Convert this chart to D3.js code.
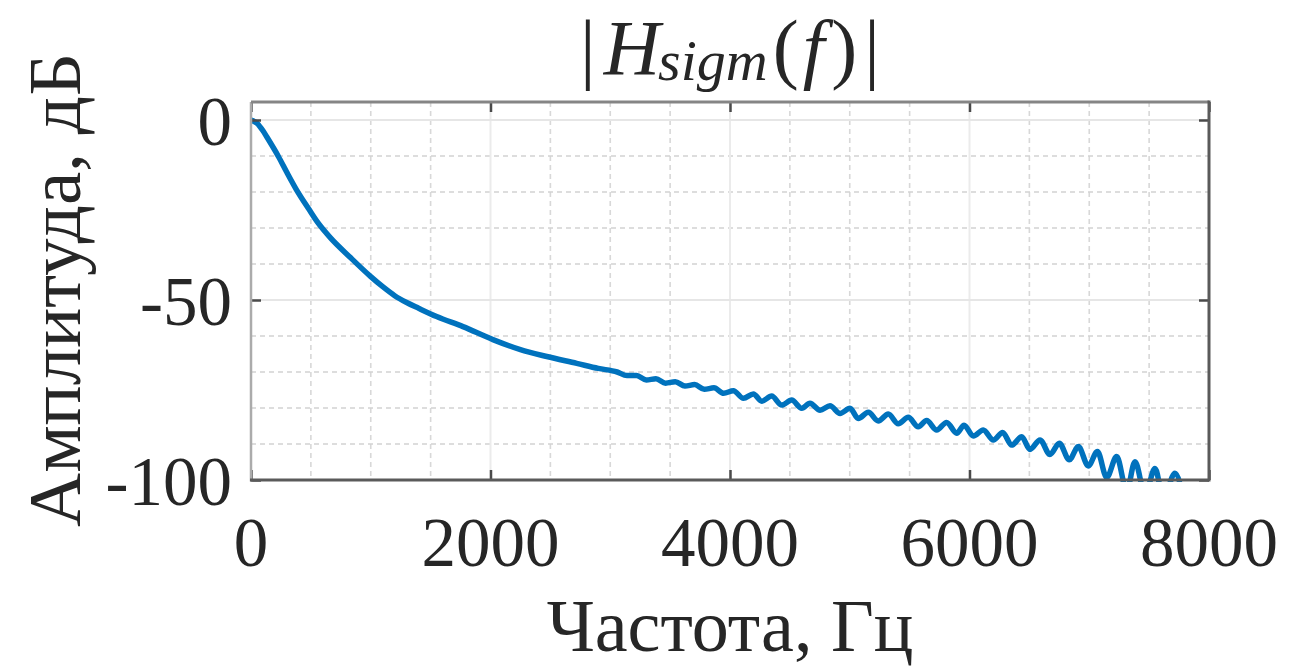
<!DOCTYPE html>
<html>
<head>
<meta charset="utf-8">
<script src="https://cdn.jsdelivr.net/npm/d3@7"></script>
<style>
html,body{margin:0;padding:0;background:#fff;}
svg{display:block;}
text{font-family:"Liberation Serif","DejaVu Serif",serif;fill:#262626;}
</style>
</head>
<body>
<svg id="chart" width="1294" height="666"></svg>
<script>
// ---- data ----
const freqHz = [0, 50, 100, 130, 230, 300, 380, 480, 560, 660, 830, 1000, 1100, 1200, 1300, 1400, 1550, 1770, 2020, 2250, 2470, 2720, 2900,
  3058, 3139, 3220, 3301, 3382, 3462, 3543, 3624, 3705, 3785, 3866, 3947,
  4028, 4112, 4195, 4265, 4348, 4432, 4515, 4599, 4668, 4752, 4835, 4919,
  5002, 5071, 5155, 5238, 5322, 5405, 5489, 5572, 5642, 5726, 5809, 5893,
  5955, 6032, 6115, 6199, 6277, 6352, 6436, 6505, 6589, 6672, 6750, 6833,
  6909, 6992, 7068, 7146, 7229, 7313, 7382, 7466, 7549, 7619, 7716, 7790];
const magDb = [0, -0.9, -3.0, -4.6, -10.2, -14.6, -19.4, -24.6, -28.6, -32.6, -38.2, -43.5, -46.3, -48.8, -50.7, -52.3, -54.6, -57.4, -61.0, -63.8, -65.7, -67.6, -69.0,
  -70.0, -71.0, -71.0, -72.2, -71.9, -73.1, -72.7, -73.9, -73.5, -74.8, -74.4, -75.9,
  -75.2, -77.3, -76.1, -78.1, -76.7, -79.2, -77.8, -80.1, -78.7, -80.6, -79.4, -81.5,
  -80.1, -82.9, -81.2, -83.6, -81.7, -84.4, -82.6, -85.2, -83.5, -86.1, -84.0, -87.0,
  -84.8, -87.8, -86.1, -88.9, -86.8, -90.3, -88.0, -91.5, -88.9, -92.9, -89.8, -94.4,
  -90.7, -96.1, -92.1, -99.3, -93.5, -103.0, -94.9, -104.0, -96.8, -105.0, -98.1, -106.0];
const xTicks = [0, 2000, 4000, 6000, 8000];
const xTickLabels = ["0", "2000", "4000", "6000", "8000"];
const yTicks = [0, -50, -100];
const yTickLabels = ["0", "-50", "-100"];
const xMinor = [500, 1000, 1500, 2500, 3000, 3500, 4500, 5000, 5500, 6500, 7000, 7500];
const yMinor = [-10, -20, -30, -40, -60, -70, -80, -90];
const xLabel = "Частота, Гц";
const yLabel = "Амплитуда, дБ";

// ---- layout ----
const L = 251, R = 1209, T = 102, B = 480;
const x = d3.scaleLinear().domain([0, 8000]).range([L, R]);
const y = d3.scaleLinear().domain([-100, 5]).range([B, T]);
const svg = d3.select("#chart");

// minor grid (dashed)
const g = svg.append("g");
g.selectAll(".vmin").data(xMinor).enter().append("line")
  .attr("x1", d => x(d)).attr("x2", d => x(d)).attr("y1", T).attr("y2", B)
  .attr("stroke", "#d8d8d8").attr("stroke-width", 1.6).attr("stroke-dasharray", "5,4");
g.selectAll(".hmin").data(yMinor).enter().append("line")
  .attr("x1", L).attr("x2", R).attr("y1", d => y(d)).attr("y2", d => y(d))
  .attr("stroke", "#d2d2d2").attr("stroke-width", 1.6).attr("stroke-dasharray", "5,4");
// major grid (solid)
g.selectAll(".vmaj").data(xTicks).enter().append("line")
  .attr("x1", d => x(d)).attr("x2", d => x(d)).attr("y1", T).attr("y2", B)
  .attr("stroke", "#ebebeb").attr("stroke-width", 2);
g.selectAll(".hmaj").data(yTicks).enter().append("line")
  .attr("x1", L).attr("x2", R).attr("y1", d => y(d)).attr("y2", d => y(d))
  .attr("stroke", "#e6e6e6").attr("stroke-width", 2);

// curve
svg.append("clipPath").attr("id", "clip").append("rect")
  .attr("x", L).attr("y", T).attr("width", R - L).attr("height", B - T + 2);
const pts = freqHz.map((f, i) => [f, magDb[i]]);
svg.append("path").datum(pts)
  .attr("clip-path", "url(#clip)")
  .attr("fill", "none").attr("stroke", "#0072BD").attr("stroke-width", 5.5)
  .attr("stroke-linejoin", "round")
  .attr("d", d3.line().x(d => x(d[0])).y(d => y(d[1])).curve(d3.curveMonotoneX));

// axes via d3 axis generators (inward ticks)
const axB = svg.append("g").attr("transform", `translate(0,${B})`)
  .call(d3.axisTop(x).tickValues(xTicks).tickSize(10).tickFormat(""));
const axT = svg.append("g").attr("transform", `translate(0,${T})`)
  .call(d3.axisBottom(x).tickValues(xTicks).tickSize(10).tickFormat(""));
const axL = svg.append("g").attr("transform", `translate(${L},0)`)
  .call(d3.axisRight(y).tickValues(yTicks).tickSize(10).tickFormat(""));
const axR = svg.append("g").attr("transform", `translate(${R},0)`)
  .call(d3.axisLeft(y).tickValues(yTicks).tickSize(10).tickFormat(""));
[axB, axT, axL, axR].forEach(a => {
  a.select(".domain").remove();
  a.selectAll(".tick line").attr("stroke", "#4a4a4a").attr("stroke-width", 2.5);
});
// box
svg.append("line").attr("x1", L).attr("x2", L).attr("y1", T).attr("y2", B + 1.5).attr("stroke", "#ababab").attr("stroke-width", 2.5);
svg.append("line").attr("x1", L).attr("x2", R).attr("y1", T).attr("y2", T).attr("stroke", "#858585").attr("stroke-width", 3);
svg.append("line").attr("x1", R).attr("x2", R).attr("y1", T - 1.5).attr("y2", B + 1.5).attr("stroke", "#5a5a5a").attr("stroke-width", 3);
svg.append("line").attr("x1", L - 1).attr("x2", R).attr("y1", B).attr("y2", B).attr("stroke", "#5a5a5a").attr("stroke-width", 3);

// tick labels
svg.selectAll(".xl").data(xTicks).enter().append("text")
  .attr("x", d => x(d)).attr("y", 566).attr("text-anchor", "middle")
  .attr("font-size", 69).text((d, i) => xTickLabels[i]);
svg.selectAll(".yl").data(yTicks).enter().append("text")
  .attr("x", 232).attr("y", d => y(d) + 25).attr("text-anchor", "end")
  .attr("font-size", 69).text((d, i) => yTickLabels[i]);

// axis titles
svg.append("text").attr("x", (L + R) / 2).attr("y", 651).attr("text-anchor", "middle")
  .attr("font-size", 74).text(xLabel);
svg.append("text").attr("transform", "translate(80,290) rotate(-90)").attr("text-anchor", "middle")
  .attr("font-size", 75).text(yLabel);

// title |H_sigm(f)|
const t = svg.append("text").attr("x", (L + R) / 2).attr("y", 74).attr("text-anchor", "middle").attr("font-size", 78);
t.append("tspan").text("|");
t.append("tspan").attr("font-style", "italic").attr("dx", 8).text("H");
t.append("tspan").attr("font-style", "italic").attr("font-size", 58).attr("dy", 6).attr("dx", -2).text("sigm");
t.append("tspan").attr("dy", -6).attr("dx", 5).text("(");
t.append("tspan").attr("font-style", "italic").attr("dx", 4).text("f");
t.append("tspan").attr("dx", 7).text(")");
t.append("tspan").attr("dx", 7).text("|");
</script>
</body>
</html>
